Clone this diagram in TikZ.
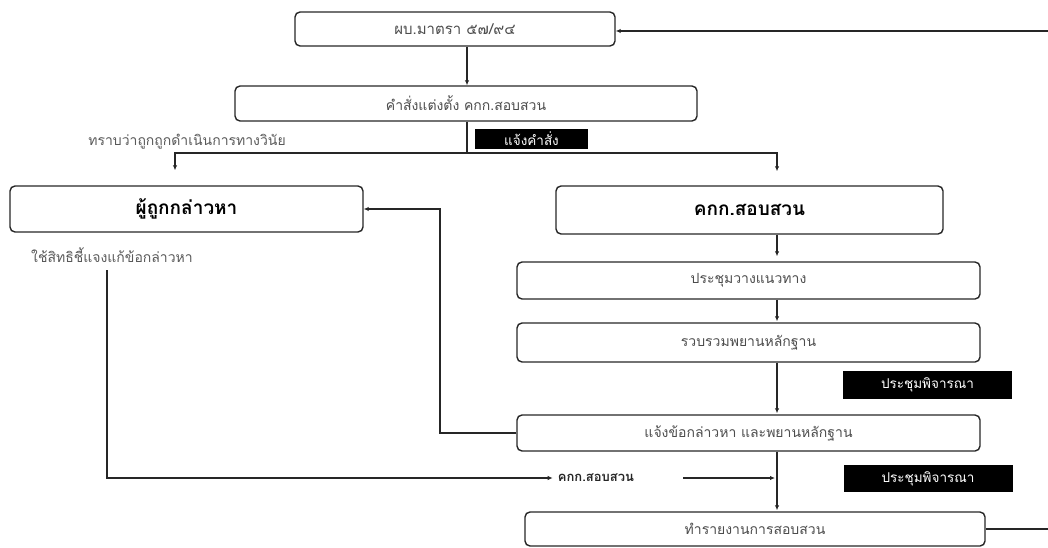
\documentclass[tikz,border=0pt]{standalone}
\usepackage{fontspec}
\newfontfamily\thai[Script=Thai]{Loma}
\usetikzlibrary{arrows.meta}
\begin{document}
\begin{tikzpicture}[x=1pt,y=-1pt,
  box/.style={draw=black!85, line width=1.4pt, rounded corners=5pt, inner sep=0pt,
    font=\thai\fontsize{14}{16}\selectfont, text=black!70},
  bigbox/.style={box, font=\thai\bfseries\fontsize{19}{21}\selectfont, text=black},
  tag/.style={fill=black, text=white, inner sep=0pt, font=\thai\fontsize{13.5}{15}\selectfont},
  lbl/.style={inner sep=0pt, font=\thai\fontsize{14}{16}\selectfont, text=black!65},
  conn/.style={draw=black!85, line width=1.3pt},
  arr/.style={conn, -{Latex[length=5pt,width=4.5pt]}},
]
\useasboundingbox (0,0) rectangle (1048,548);

% boxes
\node[box, minimum width=320pt, minimum height=34pt, font=\thai\fontsize{15}{17}\selectfont] (top) at (455,29) {ผบ.มาตรา ๕๗/๙๔};
\node[box, minimum width=462pt, minimum height=35pt] (order) at (466,103.5) {คำสั่งแต่งตั้ง คกก.สอบสวน};
\node[bigbox, minimum width=353pt, minimum height=46pt] (acc) at (186.5,209) {ผู้ถูกกล่าวหา};
\node[bigbox, minimum width=387pt, minimum height=48pt] (inv) at (749.5,210) {คกก.สอบสวน};
\node[box, minimum width=463pt, minimum height=37pt] (m1) at (748.5,280.5) {ประชุมวางแนวทาง};
\node[box, minimum width=463pt, minimum height=39pt] (m2) at (748.5,342.5) {รวบรวมพยานหลักฐาน};
\node[box, minimum width=463pt, minimum height=36pt] (notify) at (748.5,433) {แจ้งข้อกล่าวหา และพยานหลักฐาน};
\node[box, minimum width=460pt, minimum height=34pt] (report) at (755,529) {ทำรายงานการสอบสวน};

% tags
\node[tag, minimum width=113pt, minimum height=20pt] (t1) at (531.5,139) {แจ้งคำสั่ง};
\node[tag, minimum width=169pt, minimum height=28pt] (t2) at (927.5,385) {ประชุมพิจารณา};
\node[tag, minimum width=169pt, minimum height=27pt] (t3) at (928,478.5) {ประชุมพิจารณา};

% labels
\node[lbl] (l1) at (187,142) {ทราบว่าถูกถูกดำเนินการทางวินัย};
\node[lbl] (l2) at (112,255) {ใช้สิทธิชี้แจงแก้ข้อกล่าวหา};
\node[lbl, font=\thai\bfseries\fontsize{13}{15}\selectfont, text=black!85] (l3) at (596,478) {คกก.สอบสวน};

% coordinates
\coordinate (tr) at (1048,31);
\coordinate (c1) at (467,0);
\coordinate (split) at (467,153);
\coordinate (la) at (175,0);
\coordinate (ra) at (777,0);
\coordinate (lv) at (440,0);
\coordinate (dstart) at (107,270);
\coordinate (a2s) at (683,478);
\coordinate (br) at (1048,529);

% connectors
\draw[arr] (tr) -- (top.east |- tr);
\draw[arr] (top.south -| c1) -- (order.north -| c1);
\draw[conn] (order.south -| c1) -- (split);
\draw[arr, shorten >=15pt] (split) -| (la |- acc.north);
\draw[arr, shorten >=14pt] (split) -| (ra |- inv.north);
\draw[arr, shorten >=5pt] (inv.south -| ra) -- (m1.north -| ra);
\draw[arr, shorten >=1pt] (m1.south -| ra) -- (m2.north -| ra);
\draw[arr, shorten >=1pt] (m2.south -| ra) -- (notify.north -| ra);
\draw[arr, shorten >=1pt] (notify.south -| ra) -- (report.north -| ra);
\draw[arr] (notify.west) -| (lv |- acc.east) -- (acc.east);
\draw[arr, shorten >=5pt] (dstart) |- (l3.west);
\draw[arr, shorten >=2pt] (a2s) -- (a2s -| ra);
\draw[conn] (report.east) -- (br);
\end{tikzpicture}
\end{document}
